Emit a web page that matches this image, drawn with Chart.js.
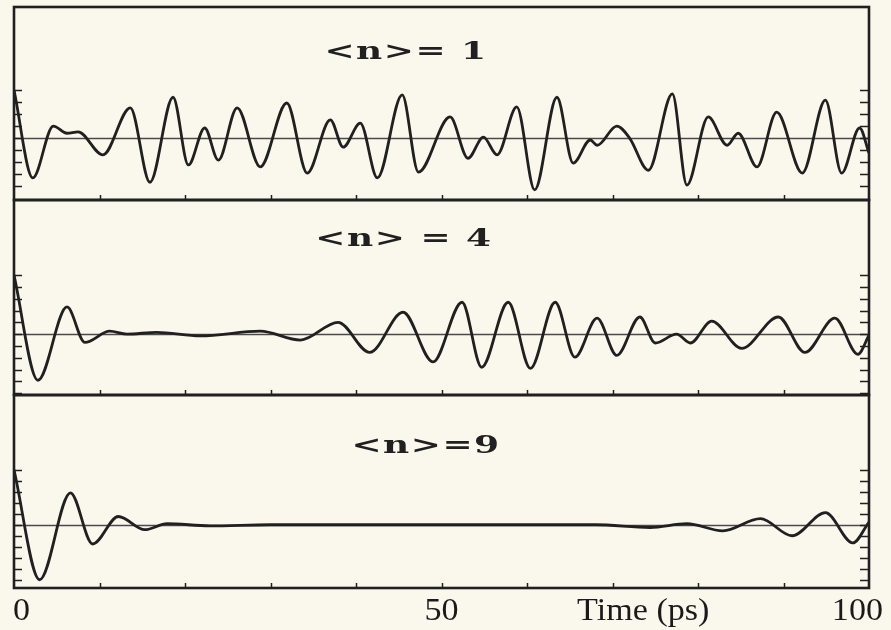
<!DOCTYPE html>
<html>
<head>
<meta charset="utf-8">
<title>Correlation functions for &lt;n&gt; = 1, 4, 9</title>
<script src="https://cdn.jsdelivr.net/npm/chart.js@4.4.1/dist/chart.umd.min.js"></script>
<style>
  html, body { margin: 0; padding: 0; background: #faf7ec; }
  #wrap { position: relative; width: 891px; height: 630px; overflow: hidden; }
  #wrap canvas { position: absolute; left: 0; top: 0; }
</style>
</head>
<body>
<div id="wrap">
  <canvas id="panel1" width="891" height="630"></canvas>
  <canvas id="panel2" width="891" height="630"></canvas>
  <canvas id="panel3" width="891" height="630"></canvas>
</div>
<script>
// --- Data (time in ps, signal normalised to 1 at t = 0) ---
const PANEL_TITLES = ["<n>= 1", "<n> = 4", "<n>=9"];
const TIME_LABELS = [0, 50, 100];
const TIME_TITLE = "Time (ps)";

const TIME_N1 = [0, 2.2, 4.6, 6.2, 7.5, 10.4, 13.6, 15.9, 18.6, 20.4, 22.3, 23.9, 26.1, 28.8,
  31.9, 34.3, 37.0, 38.5, 40.5, 42.5, 45.4, 47.3, 51.0, 53.1, 54.9, 56.5, 58.8, 60.9, 63.5,
  65.4, 67.4, 68.2, 70.5, 72.0, 74.2, 77.0, 78.7, 81.2, 83.4, 84.7, 86.9, 89.2, 92.2, 94.9,
  96.8, 98.9, 100];
const VALUE_N1 = [1.0, -0.83, 0.25, 0.1, 0.13, -0.35, 0.63, -0.92, 0.85, -0.56, 0.21, -0.46, 0.63, -0.6,
  0.73, -0.73, 0.38, -0.19, 0.31, -0.83, 0.9, -0.71, 0.44, -0.42, 0.02, -0.35, 0.65, -1.08, 0.85,
  -0.52, -0.04, -0.15, 0.25, 0.0, -0.67, 0.92, -0.98, 0.44, -0.15, 0.1, -0.6, 0.54, -0.73, 0.79,
  -0.73, 0.21, -0.31];

const TIME_N4 = [0, 2.8, 6.2, 8.3, 11.2, 13.2, 16.7, 21.8, 28.8, 33.5, 37.9, 41.6, 45.5, 49.0,
  52.4, 54.7, 57.8, 60.4, 63.3, 65.6, 68.2, 70.5, 73.2, 75.0, 77.5, 79.1, 81.6, 85.1, 89.4,
  92.5, 96.0, 98.7, 100];
const VALUE_N4 = [1.0, -0.78, 0.46, -0.14, 0.05, 0.0, 0.03, -0.03, 0.05, -0.1, 0.2, -0.31, 0.37, -0.47,
  0.54, -0.56, 0.54, -0.58, 0.54, -0.39, 0.27, -0.36, 0.29, -0.15, 0.0, -0.15, 0.22, -0.24, 0.29,
  -0.31, 0.27, -0.34, -0.02];

const TIME_N9 = [0, 3.0, 6.6, 9.2, 12.2, 15.3, 17.9, 22.9, 30, 40, 50, 60, 68, 74.4, 78.7, 82.9,
  87.3, 91.0, 94.9, 98.1, 100];
const VALUE_N9 = [1.0, -1.0, 0.58, -0.35, 0.15, -0.09, 0.02, -0.02, 0.0, 0.0, 0.0, 0.0, 0.0, -0.05,
  0.02, -0.11, 0.11, -0.2, 0.22, -0.33, 0.05];

// --- Look ---
const INK = "#202020";
const PAGE_W = 891;
const PAGE_H = 630;
const PLOT_LEFT = 14;
const PLOT_RIGHT = 869;

// one entry per stacked panel
const PANELS = [
  { id: "panel1", time: TIME_N1, values: VALUE_N1, top: 7, bottom: 200, yMin: -1.29, yMax: 2.73, yStep: 0.25, titleX: 406, titleDy: 46 },
  { id: "panel2", time: TIME_N4, values: VALUE_N4, top: 200, bottom: 395, yMin: -1.03, yMax: 2.27, yStep: 0.2, titleX: 404, titleDy: 40 },
  { id: "panel3", time: TIME_N9, values: VALUE_N9, top: 395, bottom: 588, yMin: -1.15, yMax: 2.36, yStep: 0.2, titleX: 426, titleDy: 52 },
];

// --- Frame, zero line, minor ticks and labels ---
const panelDecor = {
  id: "panelDecor",
  beforeDatasetsDraw(chart) {
    const { ctx, chartArea: a, scales: { y } } = chart;
    const y0 = Math.round(y.getPixelForValue(0)) + 0.5;
    ctx.save();
    ctx.strokeStyle = "#4a4a4a";
    ctx.lineWidth = 1.5;
    ctx.beginPath();
    ctx.moveTo(a.left, y0);
    ctx.lineTo(a.right, y0);
    ctx.stroke();
    ctx.restore();
  },
  afterDatasetsDraw(chart, args, opts) {
    const { ctx, chartArea: a, scales: { x, y } } = chart;
    ctx.save();
    ctx.strokeStyle = INK;
    ctx.lineWidth = 1.5;
    ctx.beginPath();
    const n = Math.round(2 / opts.yStep);
    for (let i = 0; i <= n; i++) {
      const py = Math.round(y.getPixelForValue(-1 + i * opts.yStep)) + 0.5;
      ctx.moveTo(a.left, py);
      ctx.lineTo(a.left + 8, py);
      ctx.moveTo(a.right - 9, py);
      ctx.lineTo(a.right, py);
    }
    for (let t = 10; t < 100; t += 10) {
      const px = Math.round(x.getPixelForValue(t)) + 0.5;
      ctx.moveTo(px, a.bottom);
      ctx.lineTo(px, a.bottom - 5);
    }
    ctx.stroke();

    ctx.lineWidth = 2.6;
    ctx.strokeRect(a.left, a.top, a.right - a.left, a.bottom - a.top);

    // panel title
    ctx.save();
    ctx.fillStyle = INK;
    ctx.font = "bold 24px 'DejaVu Serif'";
    ctx.textAlign = "center";
    ctx.textBaseline = "middle";
    ctx.letterSpacing = "1px";
    ctx.translate(opts.titleX, a.top + opts.titleDy);
    ctx.scale(1.5, 1);
    ctx.fillText(opts.title, 0, 0);
    ctx.restore();

    if (opts.timeAxis) {
      ctx.fillStyle = "#1a1a1a";
      ctx.font = "31px 'Liberation Serif'";
      ctx.textBaseline = "alphabetic";
      ctx.letterSpacing = "0px";
      const last = TIME_LABELS.length - 1;
      TIME_LABELS.forEach((v, i) => {
        let px = x.getPixelForValue(v);
        let align = "center";
        if (i === 0) { align = "left"; px -= 1; }
        if (i === last) { align = "right"; px += 14; }
        ctx.save();
        ctx.textAlign = align;
        ctx.translate(px, 620);
        ctx.scale(1.1, 1);
        ctx.fillText(String(v), 0, 0);
        ctx.restore();
      });
      ctx.save();
      ctx.textAlign = "center";
      ctx.translate(x.getPixelForValue(73.6), 620);
      ctx.scale(1.1, 1);
      ctx.fillText(TIME_TITLE, 0, 0);
      ctx.restore();
    }
    ctx.restore();
  },
};

// --- Charts ---
function createPanel(panel, index) {
  const ctx = document.getElementById(panel.id).getContext("2d");
  const points = panel.time.map((t, i) => ({ x: t, y: panel.values[i] }));
  return new Chart(ctx, {
    type: "line",
    data: {
      datasets: [
        {
          data: points,
          borderColor: INK,
          borderWidth: 2.8,
          pointRadius: 0,
          cubicInterpolationMode: "monotone",
        },
      ],
    },
    options: {
      responsive: false,
      animation: false,
      events: [],
      layout: {
        padding: {
          left: PLOT_LEFT,
          right: PAGE_W - PLOT_RIGHT,
          top: panel.top,
          bottom: PAGE_H - panel.bottom,
        },
      },
      plugins: {
        legend: { display: false },
        tooltip: { enabled: false },
        panelDecor: {
          title: PANEL_TITLES[index],
          titleX: panel.titleX,
          titleDy: panel.titleDy,
          yStep: panel.yStep,
          timeAxis: index === PANELS.length - 1,
        },
      },
      scales: {
        x: { type: "linear", min: 0, max: 100, display: false },
        y: { min: panel.yMin, max: panel.yMax, display: false },
      },
    },
    plugins: [panelDecor],
  });
}

PANELS.forEach(createPanel);
</script>
</body>
</html>
